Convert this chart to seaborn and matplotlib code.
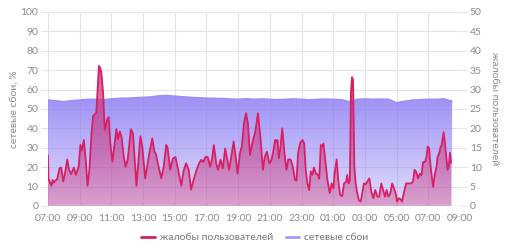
import numpy as np
import pandas as pd
import matplotlib
matplotlib.use("Agg")
import matplotlib.pyplot as plt
import matplotlib.dates as mdates
from matplotlib.colors import to_rgb
from matplotlib.lines import Line2D
import seaborn as sns

# ---------------- data ----------------
complaint_times = [
    "07:00", "07:02", "07:13", "07:18", "07:23", "07:28", "07:35", "07:44", "07:50", "07:58",
    "08:07", "08:13", "08:20", "08:28", "08:38", "08:46", "08:56", "09:03", "09:08", "09:16",
    "09:23", "09:30", "09:37", "09:45", "09:51", "09:57", "10:03", "10:08", "10:13", "10:18",
    "10:22", "10:29", "10:35", "10:44", "10:50", "10:56", "11:04", "11:11", "11:19", "11:25",
    "11:32", "11:39", "11:47", "11:54", "12:02", "12:14", "12:22", "12:35", "12:50", "12:58",
    "13:08", "13:25", "13:35", "13:43", "13:48", "13:56", "14:09", "14:18", "14:28", "14:33",
    "14:43", "14:53", "15:03", "15:12", "15:25", "15:33", "15:43", "15:53", "16:02", "16:11",
    "16:21", "16:31", "16:40", "16:48", "16:56", "17:05", "17:14", "17:21", "17:28", "17:37",
    "17:44", "17:53", "18:02", "18:11", "18:19", "18:26", "18:34", "18:43", "18:51", "18:58",
    "19:07", "19:14", "19:22", "19:30", "19:37", "19:45", "19:55", "20:05", "20:15", "20:24",
    "20:29", "20:34", "20:41", "20:49", "20:58", "21:06", "21:14", "21:20", "21:25", "21:29",
    "21:34", "21:40", "21:47", "21:52", "21:57", "22:03", "22:10", "22:19", "22:27", "22:35",
    "22:41", "22:47", "22:55", "23:04", "23:10", "23:16", "23:22", "23:29", "23:35", "23:41",
    "23:47", "23:55", "00:02", "00:07", "00:13", "00:19", "00:23", "00:31", "00:38", "00:47",
    "00:54", "01:01", "01:05", "01:13", "01:19", "01:26", "01:34", "01:41", "01:49", "01:53",
    "01:58", "02:03", "02:07", "02:11", "02:15", "02:20", "02:25", "02:31", "02:37", "02:44",
    "02:50", "02:56", "03:03", "03:09", "03:17", "03:24", "03:32", "03:39", "03:47", "03:54",
    "04:02", "04:09", "04:16", "04:22", "04:29", "04:36", "04:43", "04:50", "04:56", "05:02",
    "05:08", "05:14", "05:21", "05:27", "05:36", "05:46", "05:55", "06:02", "06:08", "06:14",
    "06:21", "06:28", "06:34", "06:40", "06:47", "06:53", "06:58", "07:03", "07:10", "07:18",
    "07:24", "07:31", "07:35", "07:41", "07:46", "07:50", "07:58", "08:03", "08:08", "08:13",
    "08:18", "08:22", "08:26",
]
complaints = [
    13.1, 7.1, 5.2, 6.7, 6.0, 6.5, 6.9, 9.7, 9.9, 6.3,
    9.3, 12.0, 9.3, 8.2, 9.9, 8.0, 10.1, 15.7, 14.2, 17.0,
    11.9, 5.2, 9.3, 18.7, 23.2, 23.6, 24.0, 30.0, 36.1, 35.5,
    34.5, 29.0, 19.6, 22.2, 22.9, 16.2, 11.4, 15.3, 19.8, 17.2,
    19.2, 17.7, 12.7, 10.1, 11.9, 19.8, 18.7, 5.2, 18.0, 14.8,
    7.1, 14.0, 17.4, 14.0, 13.5, 11.0, 7.1, 10.1, 15.7, 15.0,
    9.3, 12.2, 12.6, 9.6, 5.2, 8.9, 11.0, 9.3, 4.2, 6.6,
    8.9, 10.8, 11.9, 11.3, 12.6, 12.6, 10.1, 12.0, 15.7, 11.0,
    9.3, 11.9, 9.7, 14.8, 11.9, 9.3, 12.7, 16.6, 12.5, 8.4,
    13.6, 15.3, 21.3, 23.9, 21.3, 13.1, 16.6, 19.2, 23.9, 18.0,
    13.6, 9.3, 12.7, 14.0, 11.0, 11.8, 14.4, 17.0, 16.5, 17.0,
    12.3, 14.9, 20.0, 16.1, 12.5, 9.3, 12.0, 11.9, 10.1, 6.7,
    6.5, 13.6, 16.3, 17.0, 16.1, 9.3, 5.8, 4.1, 8.9, 8.0,
    9.9, 8.3, 8.0, 7.0, 15.7, 15.3, 16.1, 11.0, 6.7, 3.3,
    5.8, 4.5, 8.4, 12.0, 6.7, 2.9, 2.5, 5.8, 6.3, 8.0,
    5.8, 6.5, 29.0, 33.2, 32.5, 10.0, 5.8, 3.3, 1.5, 1.1,
    3.3, 5.8, 5.6, 6.3, 7.1, 3.7, 2.0, 4.1, 2.4, 2.4,
    5.8, 4.1, 2.4, 4.1, 2.4, 3.2, 5.8, 4.5, 3.3, 1.1,
    2.0, 1.8, 1.1, 3.3, 5.8, 5.8, 5.8, 6.3, 9.3, 8.8,
    7.1, 8.3, 7.9, 11.3, 11.3, 12.6, 15.3, 14.8, 9.3, 4.9,
    7.9, 10.1, 12.6, 13.5, 15.1, 15.5, 19.0, 16.1, 12.6, 9.3,
    10.5, 13.7, 11.1,
]

network_times = [
    "07:00", "07:30", "08:00", "08:30", "09:00", "09:30", "10:00", "10:30", "11:00", "11:30",
    "12:00", "12:30", "13:00", "13:30", "14:00", "14:30", "15:00", "15:30", "16:00", "16:30",
    "17:00", "17:30", "18:00", "18:30", "19:00", "19:30", "20:00", "20:30", "21:00", "21:30",
    "22:00", "22:30", "23:00", "23:30", "00:00", "00:30", "01:00", "01:30", "02:00", "02:30",
    "03:00", "03:30", "04:00", "04:30", "05:00", "05:30", "06:00", "06:30", "07:00", "07:30",
    "08:00", "08:30",
]
network = [
    54.6, 54.2, 53.8, 54.3, 54.6, 55.0, 55.0, 54.8, 55.2, 55.5,
    55.6, 55.8, 56.0, 56.2, 56.8, 57.0, 56.6, 56.3, 56.0, 55.8,
    55.6, 55.5, 55.4, 55.2, 55.0, 55.3, 55.0, 55.2, 55.0, 54.8,
    55.0, 55.2, 55.0, 54.7, 55.0, 55.1, 55.0, 54.8, 53.8, 55.0,
    55.2, 55.0, 55.1, 55.0, 53.2, 54.0, 54.6, 54.8, 55.0, 55.0,
    55.2, 54.0,
]

x_start, x_end = "07:00", "09:00"
series_names = ["жалобы пользователей", "сетевые сбои"]
left_label = "сетевые сбои, %"
right_label = "жалобы пользователей"


def to_stamps(times, base="2024-01-01"):
    out, day, prev = [], 0, None
    for t in times:
        hh, mm = map(int, t.split(":"))
        m = hh * 60 + mm
        if prev is not None and m < prev:
            day += 1
        prev = m
        out.append(pd.Timestamp(base) + pd.Timedelta(days=day, minutes=m))
    return out


df_c = pd.DataFrame({"time": to_stamps(complaint_times), "value": complaints})
df_n = pd.DataFrame({"time": to_stamps(network_times), "value": network})
t0 = to_stamps([x_start])[0]
t1 = t0 + pd.Timedelta(hours=26)

# ---------------- style ----------------
sns.set_theme(style="white")
plt.rcParams["font.family"] = ["Lato", "DejaVu Sans"]

LINE_C = "#d81f63"
PURPLE = "#8c7df3"
GRID = "#e4e4e4"
TXT = "#8a8a8a"

fig = plt.figure(figsize=(5.10, 2.49), dpi=100)
ax = fig.add_axes([0.094, 0.173, 0.808, 0.779])
ax2 = ax.twinx()


def gradient_fill(a, df, color, a_top, a_bot, ymax, z):
    xs = mdates.date2num(df["time"])
    poly = a.fill_between(df["time"], df["value"], 0, facecolor="none",
                          edgecolor="none", zorder=z)
    rgb = to_rgb(color)
    grad = np.zeros((200, 1, 4))
    grad[:, :, :3] = rgb
    grad[:, 0, 3] = np.linspace(a_bot, a_top, 200)
    im = a.imshow(grad, aspect="auto", origin="lower",
                  extent=[xs.min(), xs.max(), 0, ymax], zorder=z)
    im.set_clip_path(poly.get_paths()[0], transform=a.transData)


# network (left axis)
gradient_fill(ax, df_n, PURPLE, 0.85, 0.25, max(network), 1)
sns.lineplot(data=df_n, x="time", y="value", ax=ax, color="#9a8df5",
             linewidth=1.0, zorder=2)

# complaints (right axis)
gradient_fill(ax2, df_c, "#c9357f", 0.8, 0.36, max(complaints), 3)
sns.lineplot(data=df_c, x="time", y="value", ax=ax2, color=LINE_C,
             linewidth=1.3, zorder=4)

for a in (ax, ax2):
    a.set_xlim(t0, t1)
    for s in a.spines.values():
        s.set_visible(False)
    a.set_xlabel("")

ax.set_ylim(0, 100)
ax2.set_ylim(0, 50)
ax.set_yticks(np.arange(0, 101, 10))
ax2.set_yticks(np.arange(0, 51, 5))

ax.xaxis.set_major_locator(mdates.HourLocator(byhour=range(1, 24, 2)))
ax.xaxis.set_major_formatter(mdates.DateFormatter("%H:%M"))
ax.grid(True, color=GRID, linewidth=0.8)
ax.set_axisbelow(True)
ax2.grid(False)

ax.tick_params(axis="y", length=5, width=0.8, color=GRID, labelsize=7.5,
               labelcolor=TXT, pad=2)
ax.tick_params(axis="x", length=0, labelsize=7.5, labelcolor=TXT, pad=6)
ax2.tick_params(axis="y", length=5, width=0.8, color=GRID, labelsize=7.5,
                labelcolor=TXT, pad=2)

ax.set_ylabel(left_label, fontsize=7.5, color=TXT, labelpad=1)
ax2.set_ylabel(right_label, fontsize=7.5, color=TXT, rotation=270,
               va="bottom", labelpad=6)

handles = [Line2D([0], [0], color=LINE_C, lw=2),
           Line2D([0], [0], color="#a59af3", lw=2)]
fig.legend(handles, series_names, loc="center", bbox_to_anchor=(0.5, 0.045),
           ncol=2, frameon=False, fontsize=7.5, labelcolor="#777777",
           handlelength=1.3, handletextpad=0.5, columnspacing=1.2)

fig.savefig("out.png", dpi=100)
